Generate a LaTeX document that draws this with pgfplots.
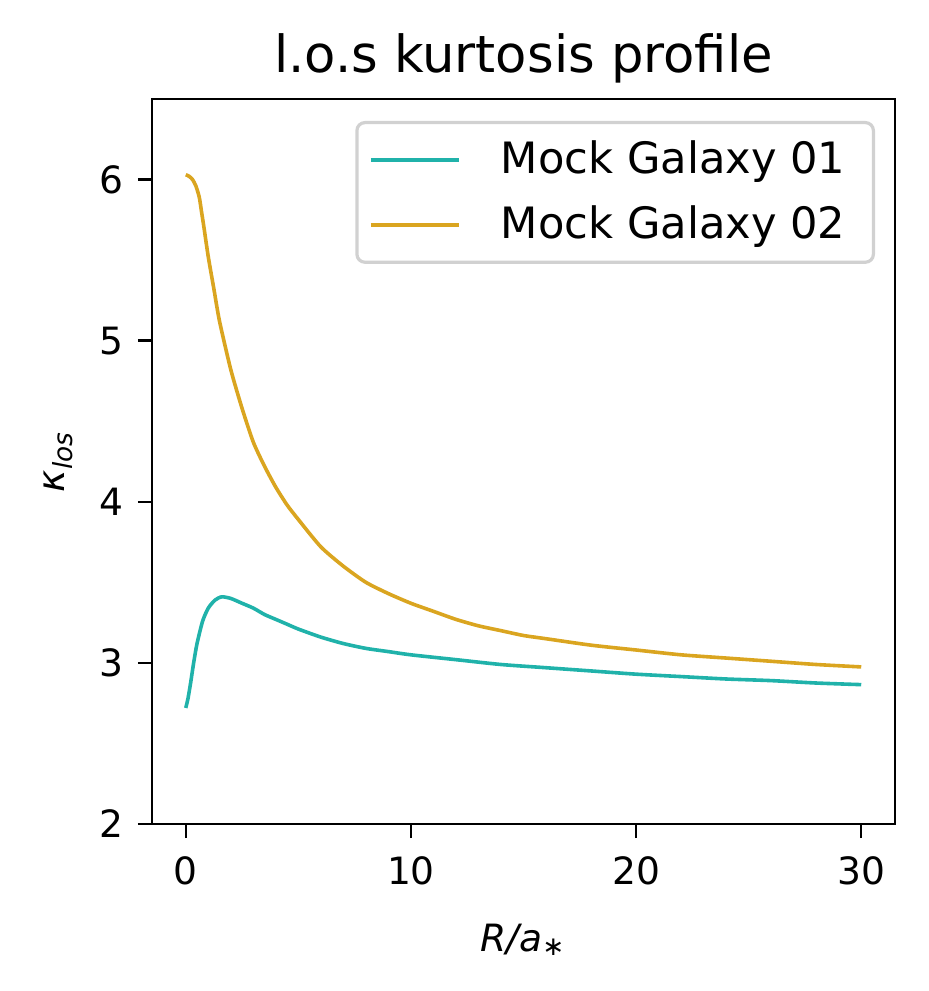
\documentclass[border=0pt]{standalone}
\usepackage{pgfplots}
\pgfplotsset{compat=1.18}
\usepackage{fontspec}
\setmainfont{DejaVu Sans}
\definecolor{teal1}{HTML}{20B2AA}
\definecolor{gold1}{HTML}{DAA520}
\begin{document}
\begin{tikzpicture}
\useasboundingbox (-38pt,-41.75pt) rectangle (194pt,206pt);
\begin{axis}[
  at={(0,0)}, anchor=south west,
  scale only axis,
  width=185.75pt, height=181.25pt,
  xmin=-1.5, xmax=31.5, ymin=2, ymax=6.5,
  xtick={0,10,20,30}, ytick={2,3,4,5,6},
  tick align=outside, tick pos=lower,
  major tick length=3.5pt,
  every tick/.style={black, line width=0.6pt},
  axis line style={line width=0.6pt},
  /pgf/number format/assume math mode=true,
  ticklabel style={font=\fontsize{9.4}{11}\selectfont},
  xticklabel style={yshift=-1pt},
  title={l.o.s kurtosis profile},
  title style={font=\fontsize{12.8}{15}\selectfont, yshift=-5.5pt},
  xlabel={\itshape R/a\textsubscript{∗}},
  ylabel={\itshape κ\textsubscript{los}},
  label style={font=\fontsize{9.4}{11}\selectfont},
  xlabel style={yshift=-3pt},
  legend style={at={(1,1)}, anchor=north east, xshift=-5pt, yshift=-5.5pt,
    draw=black!18, line width=0.8pt, rounded corners=2pt,
    font=\fontsize{10.8}{13}\selectfont, inner xsep=3pt, inner ysep=2.5pt,
    row sep=2.5pt},
  legend cell align=left,
  legend image code/.code={\draw[#1, line width=1pt] (0pt,0pt) -- (22pt,0pt);},
  legend style={nodes={inner xsep=4pt}},
]
\addplot[teal1, line width=0.9pt, smooth, tension=0.4] coordinates {
(0,2.72) (0.1,2.78) (0.22,2.88) (0.35,3.0) (0.5,3.12) (0.75,3.26) (1.0,3.34)
(1.3,3.39) (1.6,3.41) (2.0,3.40) (2.5,3.37) (3.0,3.34) (3.5,3.30) (4.0,3.27)
(4.5,3.24) (5,3.21) (6,3.16) (7,3.12) (8,3.09) (9,3.07) (10,3.05) (12,3.02)
(14,2.99) (16,2.97) (18,2.95) (20,2.93) (22,2.915) (24,2.90) (26,2.89)
(28,2.875) (30,2.865)};
\addlegendentry{\hspace{6pt}Mock Galaxy 01}
\addplot[gold1, line width=0.9pt, smooth, tension=0.4] coordinates {
(0,6.03) (0.15,6.02) (0.3,6.00) (0.45,5.96) (0.6,5.89) (0.7,5.80) (0.8,5.71) (1.0,5.52)
(1.25,5.32) (1.5,5.12) (2.0,4.82) (2.5,4.58) (3.0,4.37) (3.5,4.22) (4.0,4.09)
(4.5,3.98) (5.0,3.89) (6.0,3.72) (7.0,3.60) (8.0,3.50) (9.0,3.43) (10,3.37)
(11,3.32) (12,3.27) (13,3.23) (14,3.20) (15,3.17) (16,3.15) (18,3.11)
(20,3.08) (22,3.05) (24,3.03) (26,3.01) (28,2.99) (30,2.975)};
\addlegendentry{\hspace{6pt}Mock Galaxy 02}
\end{axis}
\end{tikzpicture}
\end{document}
